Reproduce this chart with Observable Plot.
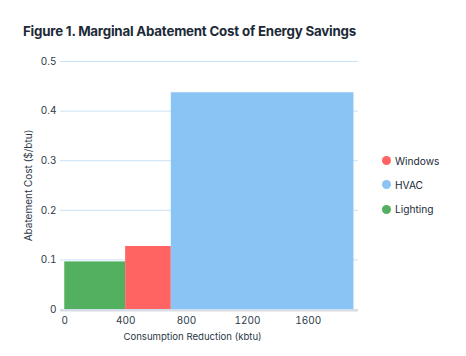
<!DOCTYPE html>
<html>
<head>
<meta charset="utf-8">
<script src="https://cdn.jsdelivr.net/npm/d3@7"></script>
<script src="https://cdn.jsdelivr.net/npm/@observablehq/plot@0.6"></script>
<style>
  html, body { margin: 0; padding: 0; background: #fff; }
  body { width: 466px; height: 356px; position: relative; overflow: hidden; font-family: Inter, "Noto Sans", sans-serif; }
  #title { position: absolute; left: 23px; top: 23px; font-size: 13.3px; font-weight: 700; color: #1c2a38; letter-spacing: -0.2px; white-space: nowrap; }
  #chart { position: absolute; left: 0; top: 45px; }
  #legend { position: absolute; left: 382px; top: 148.5px; font-size: 10.2px; color: #1c2a38; }
  .item { display: flex; align-items: center; height: 24.3px; }
  .dot { width: 9px; height: 9px; border-radius: 50%; margin-right: 4px; }
</style>
</head>
<body>
<div id="title">Figure 1. Marginal Abatement Cost of Energy Savings</div>
<div id="chart"></div>
<div id="legend"></div>
<script>
const categories = ["Lighting", "Windows", "HVAC"];
const starts = [0, 400, 700];
const ends = [400, 700, 1900];
const costs = [0.096, 0.127, 0.437];
const colors = ["#52b060", "#ff6462", "#89c4f4"];
const legendOrder = ["Windows", "HVAC", "Lighting"];
const xTicks = [0, 400, 800, 1200, 1600];
const yTicks = [0, 0.1, 0.2, 0.3, 0.4, 0.5];
const xLabel = "Consumption Reduction (kbtu)";
const yLabel = "Abatement Cost ($/btu)";

const data = categories.map((c, i) => ({category: c, start: starts[i], end: ends[i], cost: costs[i]}));

const chart = Plot.plot({
  width: 466,
  height: 311,
  marginLeft: 60,
  marginRight: 108,
  marginTop: 16,
  marginBottom: 47,
  style: {fontFamily: "Inter, 'Noto Sans', sans-serif", fontSize: "10px", color: "#2b3947", background: "transparent"},
  x: {domain: [-28, 1930]},
  y: {domain: [0, 0.5]},
  color: {domain: categories, range: colors},
  marks: [
    Plot.ruleY(yTicks, {stroke: "#c9e2f6", strokeWidth: 1}),
    Plot.rect(data, {x1: "start", x2: "end", y1: 0, y2: "cost", fill: "category"}),
    Plot.ruleY([0], {stroke: "#d8dce2", strokeWidth: 2, dy: 1}),
    Plot.axisX({ticks: xTicks, tickSize: 0, tickPadding: 7, tickFormat: d3.format("d"), label: null, fill: "#2b3947"}),
    Plot.text([xLabel], {frameAnchor: "bottom", lineAnchor: "bottom", dy: 30, dx: -17, fill: "#2b3947", fontSize: 9.6}),
    Plot.axisY({ticks: yTicks, tickSize: 0, tickPadding: 4, tickFormat: d => d === 0 ? "0" : d3.format(".1f")(d), label: yLabel, labelAnchor: "center", labelArrow: "none", labelOffset: 36, fill: "#2b3947"})
  ]
});
document.getElementById("chart").appendChild(chart);

const legend = document.getElementById("legend");
legendOrder.forEach(name => {
  const item = document.createElement("div");
  item.className = "item";
  const dot = document.createElement("span");
  dot.className = "dot";
  dot.style.background = colors[categories.indexOf(name)];
  const label = document.createElement("span");
  label.textContent = name;
  item.appendChild(dot);
  item.appendChild(label);
  legend.appendChild(item);
});
</script>
</body>
</html>
